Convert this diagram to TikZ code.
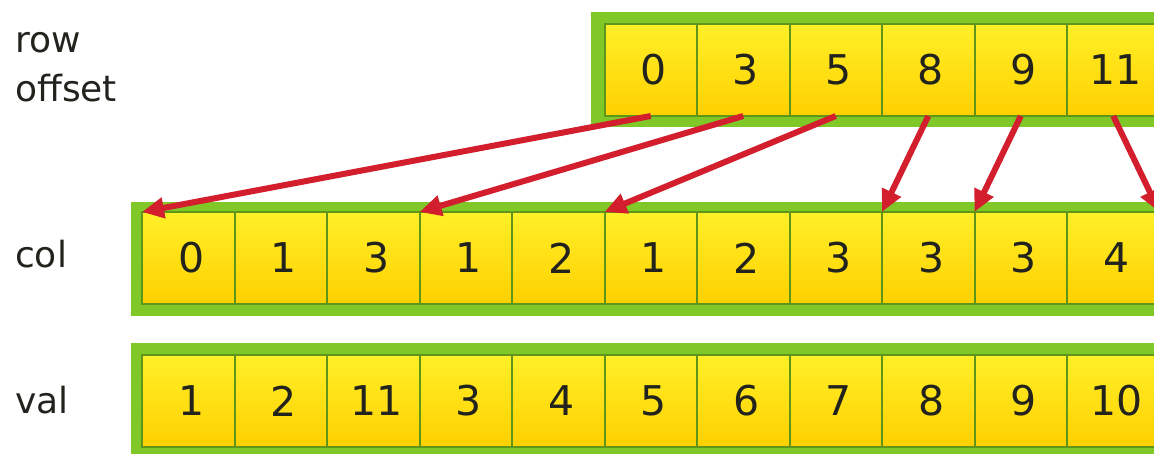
\documentclass[tikz,border=0pt]{standalone}
\usepackage{fontspec}
\setmainfont{DejaVu Sans}
\usetikzlibrary{arrows.meta}
\definecolor{bandgreen}{RGB}{128,200,40}
\definecolor{cellline}{RGB}{95,150,25}
\definecolor{celltop}{RGB}{255,240,40}
\definecolor{cellbot}{RGB}{255,208,0}
\definecolor{arrowred}{RGB}{210,30,45}
\definecolor{txt}{RGB}{35,35,30}
\tikzset{
  cell/.style={draw=cellline, line width=2pt, top color=celltop, bottom color=cellbot,
    minimum width=92.5pt, minimum height=92pt, inner sep=0pt, outer sep=0pt,
    anchor=north west, font=\fontsize{41}{48}\selectfont, text=txt},
  band/.style={fill=bandgreen},
  ptr/.style={draw=arrowred, line width=6pt, -{Triangle[length=22pt,width=20pt]}},
  lbl/.style={anchor=base west, inner sep=0pt, text=txt, align=left,
    font=\fontsize{36}{49}\selectfont}
}
\begin{document}
\begin{tikzpicture}[x=1pt,y=-1pt]
\useasboundingbox (0,0) rectangle (1154,454);
% labels
\node[lbl] (lrow) at (15,102) {row\\offset};
\node[lbl] (lcol) at (15,268) {col};
\node[lbl] (lval) at (15,413) {val};
% green bands
\fill[band] (591,12) rectangle (1180,127);
\fill[band] (131,202) rectangle (1180,316);
\fill[band] (131,343) rectangle (1180,460);
% row offset cells
\foreach \v [count=\i from 0] in {0,3,5,8,9,11}{
  \node[cell] (t\i) at ({142+92.5*(\i+5)},24) {\hspace*{5pt}\v};
}
% col cells
\foreach \v [count=\i from 0] in {0,1,3,1,2,1,2,3,3,3,4}{
  \node[cell] (c\i) at ({142+92.5*\i},212) {\hspace*{6pt}\v};
}
\coordinate (c11) at ({142+92.5*11},212);
% val cells
\foreach \v [count=\i from 0] in {1,2,11,3,4,5,6,7,8,9,10}{
  \node[cell] (v\i) at ({142+92.5*\i},355) {\hspace*{6pt}\v};
}
% pointers
\draw[ptr] (t0.south) -- (c0.north west);
\draw[ptr] (t1.south) -- (c3.north west);
\draw[ptr] (t2.south) -- (c5.north west);
\draw[ptr] (t3.south) -- (c8.north west);
\draw[ptr] (t4.south) -- (c9.north west);
\draw[ptr] (t5.south) -- (c11);
\end{tikzpicture}
\end{document}
